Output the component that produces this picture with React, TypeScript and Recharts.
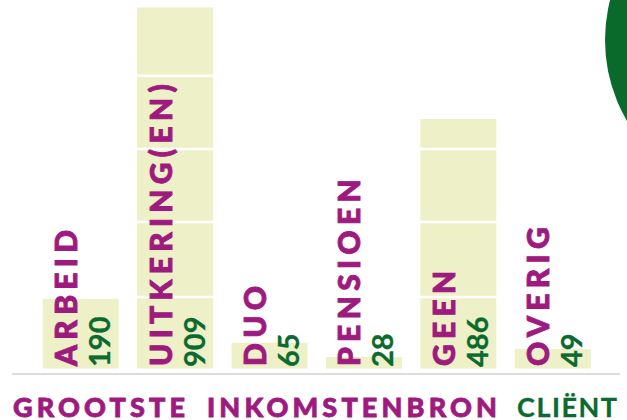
import React from "react";
import { BarChart, Bar, XAxis, YAxis, LabelList, ReferenceLine } from "recharts";

// Categories and the counts printed next to them
const categories = ["ARBEID", "UITKERING(EN)", "DUO", "PENSIOEN", "GEEN", "OVERIG"];
const counts = [190, 909, 65, 28, 486, 49];
// Bar lengths as drawn in the infographic (the designer did not draw all bars to scale)
const barLengths = [175, 909, 65, 29, 628, 49];
// White band lines crossing the bars
const bandLines = [180, 369, 553, 737];
const titleWords = ["GROOTSTE", "INKOMSTENBRON", "CLIËNT"];

const PURPLE = "#9e1a7e";
const GREEN = "#0b6a2e";
const BAR_FILL = "#eef0c7";

const data = categories.map((name, i) => ({ name, count: counts[i], length: barLengths[i] }));

const NameLabel = (props: any) => {
  const { x, y, height, value } = props;
  const px = x + 34.5;
  const py = y + height - 2.5;
  return (
    <text
      transform={`translate(${px}, ${py}) rotate(-90)`}
      textAnchor="start"
      fill={PURPLE}
      stroke={PURPLE}
      strokeWidth={0.9}
      fontFamily="Lato, sans-serif"
      fontWeight={900}
      fontSize={30}
      letterSpacing={5.3}
    >
      {value}
    </text>
  );
};

const CountLabel = (props: any) => {
  const { x, y, height, value } = props;
  const px = x + 67.5;
  const py = y + height - 1.5;
  return (
    <text
      transform={`translate(${px}, ${py}) rotate(-90)`}
      textAnchor="start"
      fill={GREEN}
      stroke={GREEN}
      strokeWidth={0.3}
      fontFamily="Lato, sans-serif"
      fontWeight={700}
      fontSize={29}
    >
      {value}
    </text>
  );
};

export default function App() {
  return (
    <div style={{ position: "absolute", left: 0, top: 0, width: 627, height: 420, overflow: "hidden", background: "#fff" }}>
      <svg width={627} height={420} style={{ position: "absolute", left: 0, top: 0 }}>
        <circle cx={765} cy={40} r={160} fill="#0a6a2b" />
      </svg>
      <div style={{ position: "absolute", left: 0, top: 0 }}>
        <BarChart
          width={627}
          height={420}
          data={data}
          margin={{ top: 7.5, right: 27.3, bottom: 51.5, left: 33.25 }}
          barCategoryGap="10%"
        >
          <XAxis dataKey="name" hide />
          <YAxis hide domain={[0, 909]} />
          <Bar dataKey="length" fill={BAR_FILL} isAnimationActive={false}>
            <LabelList dataKey="name" content={<NameLabel />} />
            <LabelList dataKey="count" content={<CountLabel />} />
          </Bar>
          {bandLines.map((v) => (
            <ReferenceLine key={v} y={v} stroke="#ffffff" strokeWidth={2.5} />
          ))}
        </BarChart>
      </div>
      <svg width={627} height={420} style={{ position: "absolute", left: 0, top: 0, pointerEvents: "none" }}>
        <line x1={12} x2={620} y1={374} y2={374} stroke="#dcdcdc" strokeWidth={2.2} />
        <text x={13} y={416.5} fill={PURPLE} stroke={PURPLE} strokeWidth={0.8} fontFamily="Lato, sans-serif" fontWeight={900} fontSize={27} textLength={172} lengthAdjust="spacing">
          {titleWords[0]}
        </text>
        <text x={207} y={416.5} fill={PURPLE} stroke={PURPLE} strokeWidth={0.8} fontFamily="Lato, sans-serif" fontWeight={900} fontSize={27} textLength={290} lengthAdjust="spacing">
          {titleWords[1]}
        </text>
        <text x={517} y={416.5} fill={GREEN} stroke={GREEN} strokeWidth={0.3} fontFamily="Lato, sans-serif" fontWeight={700} fontSize={27} textLength={100} lengthAdjust="spacing">
          {titleWords[2]}
        </text>
      </svg>
    </div>
  );
}
